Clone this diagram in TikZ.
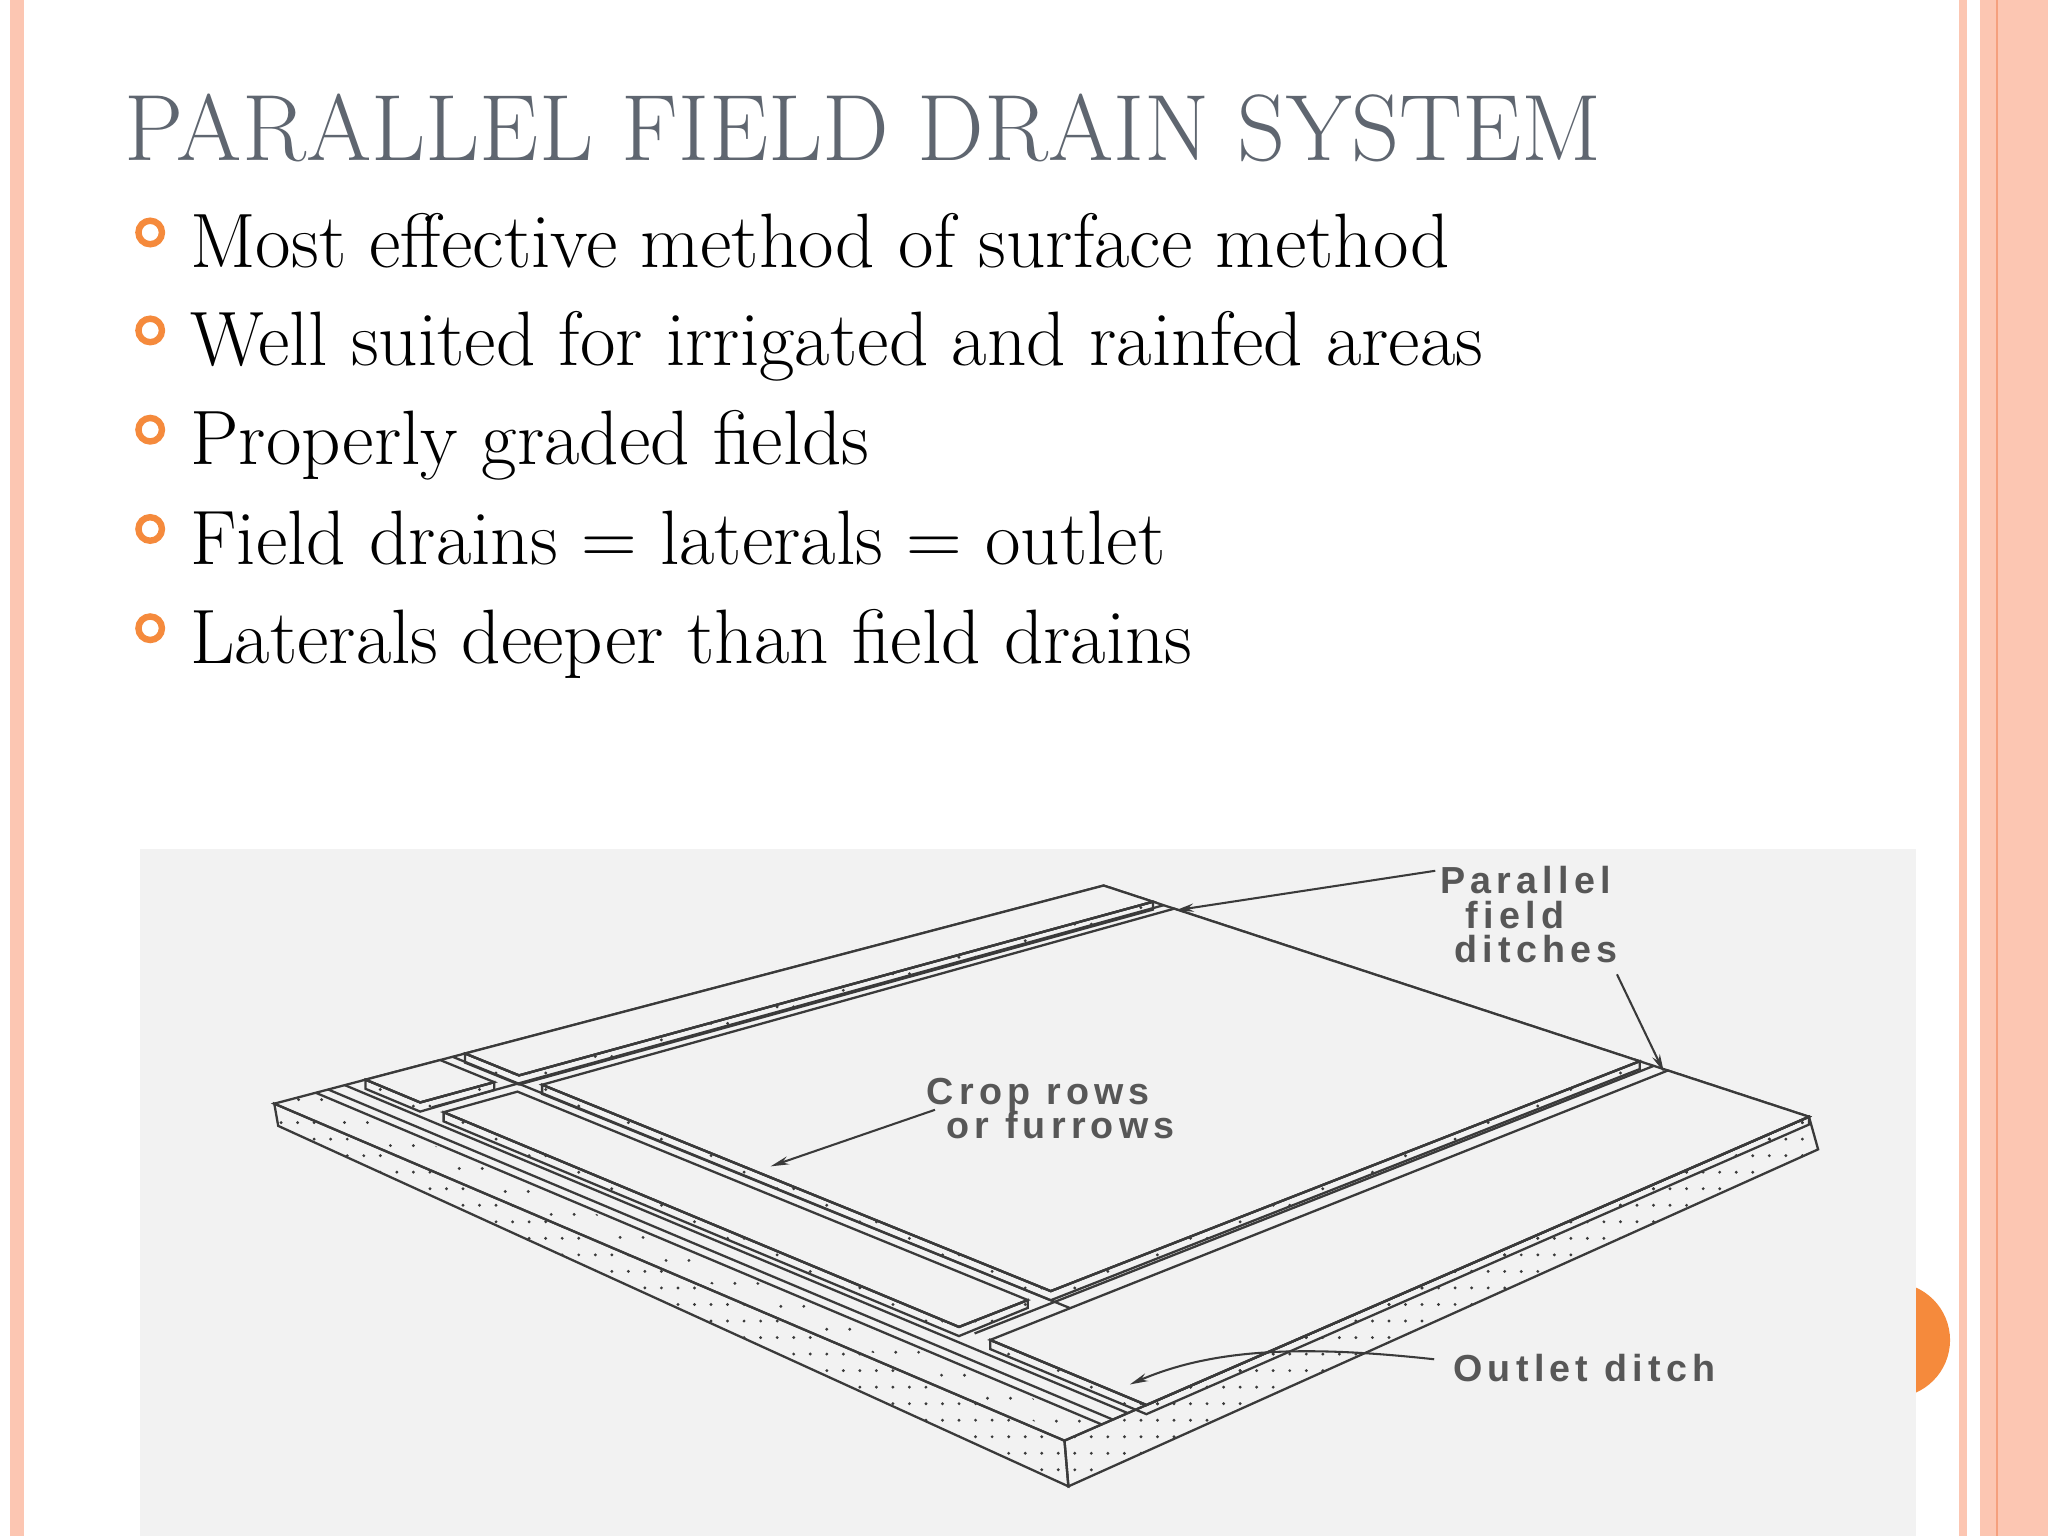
\documentclass[tikz,border=0pt]{standalone}
\usepackage{fontspec}
\usetikzlibrary{calc,patterns.meta,arrows.meta}
\newfontfamily\labfont[LetterSpace=14]{Liberation Sans Bold}
\definecolor{peach}{HTML}{FCC6B2}
\definecolor{peachline}{HTML}{F5A07E}
\definecolor{bulorange}{HTML}{F58A3C}
\definecolor{titlegray}{HTML}{5F6670}
\definecolor{photo}{HTML}{F2F2F2}
\definecolor{ink}{HTML}{3A3A3A}
\newcommand\gp[2]{($($(L)!#1!(F)$)!#2!($(Bk)!#1!(R)$)$)}
\newcommand\plate[4]{%
  \path \gp{#1}{#3} coordinate (pa) \gp{#2}{#3} coordinate (pb) \gp{#2}{#4} coordinate (pc) \gp{#1}{#4} coordinate (pd);
  \filldraw[platetop] (pa) -- (pb) -- (pc) -- (pd) -- cycle;
  \filldraw[sandface] (pa) -- (pb) -- (pc) -- ($(pc)+(0,6)$) -- ($(pb)+(0,7)$) -- ($(pa)+(0,7)$) -- cycle;
  \draw[dline] (pa) -- (pb) -- (pc);}
\newcommand\sline[3]{\draw[dline] \gp{#1}{#3} -- \gp{#2}{#3};}
\newcommand\tline[3]{\draw[dline] \gp{#3}{#1} -- \gp{#3}{#2};}
\tikzset{
  dline/.style={draw=ink,line width=0.5pt},
  platetop/.style={fill=photo,draw=ink,line width=0.5pt},
  sandface/.style={pattern={Dots[distance=3.6pt,radius=0.35pt]},pattern color=ink,draw=ink,line width=0.5pt},
  bullettext/.style={anchor=base west,inner sep=0,font=\fontsize{16.8}{20}\selectfont},
  bulletring/.style={draw=bulorange,line width=1.4pt},
  lab/.style={inner sep=0,anchor=base,text=ink!85,font=\labfont\fontsize{8.2}{9}\selectfont},
  lead/.style={draw=ink,line width=0.45pt,-{Stealth[length=4pt,width=1.8pt]}},
}
\begin{document}
\begin{tikzpicture}[x=0.01cm,y=-0.01cm]
\useasboundingbox (0,0) rectangle (1568,1176);
\fill[white] (0,0) rectangle (1568,1176);
% page decoration
\fill[peach] (8,0) rectangle (18,1176);
\fill[peach] (1500,0) rectangle (1506,1176);
\fill[peach] (1516,0) rectangle (1568,1176);
\fill[peachline] (1528,0) rectangle (1529.5,1176);
\fill[bulorange] (1449,1026) circle (44);
% title and bullets
\node[anchor=base west,inner sep=0,text=titlegray,font=\fontsize{20.5}{24}\selectfont] (title) at (95,123) {PARALLEL FIELD DRAIN SYSTEM};
\foreach \y/\t [count=\i] in {205/Most effective method of surface method,
  280/Well suited for irrigated and rainfed areas,
  356/Properly graded fields,
  432/Field drains = laterals = outlet,
  508/Laterals deeper than field drains}{
  \draw[bulletring] (115,\y-27) circle (9);
  \node[bullettext] (b\i) at (145,\y) {\t};
}
% photo area
\fill[photo] (107,650) rectangle (1467,1176);
% slab
\coordinate (L) at (210,845);
\coordinate (Bk) at (845,678);
\coordinate (R) at (1385,855);
\coordinate (F) at (815,1103);
\coordinate (Lb) at (213,862);
\coordinate (Fb) at (818,1138);
\coordinate (Rb) at (1392,880);
\filldraw[platetop] (L) -- (Bk) -- (R) -- (F) -- cycle;
\filldraw[sandface] (L) -- (F) -- (Fb) -- (Lb) -- cycle;
\filldraw[sandface] (F) -- (R) -- (Rb) -- (Fb) -- cycle;
% outlet ditch lines
\sline{0}{1}{0.05}
\sline{0}{1}{0.065}
\sline{0}{1}{0.085}
\fill[pattern={Dots[distance=5pt,radius=0.35pt]},pattern color=ink] \gp{0}{0.01} -- \gp{1}{0.01} -- \gp{1}{0.045} -- \gp{0}{0.045} -- cycle;
% lateral ditch and field ditches (bottom lines)
\sline{0}{0.8}{0.215}
\tline{0.11}{1}{0.085}
\tline{0.11}{1}{0.78}
% plates
\plate{0}{0.07}{0.23}{1}
\plate{0}{0.07}{0.11}{0.20}
\plate{0.10}{0.76}{0.11}{0.20}
\plate{0.10}{0.76}{0.23}{1}
\plate{0.80}{1}{0.11}{1}
% labels
\node[lab] (par) at (1168,684) {Parallel};
\node[lab] (fld) at (1160,711) {field};
\node[lab] (dit) at (1176,737) {ditches};
\node[lab] (crop) at (795,846) {Crop rows};
\node[lab] (furr) at (812,872) {or furrows};
\node[lab] (outl) at (1213,1058) {Outlet ditch};
\coordinate (tipA) at (900,697);
\coordinate (tipB) at (1274,821);
\coordinate (tipC) at (590,893);
\coordinate (tipD) at (865,1060);
\draw[lead] (par.west) ++(-3,-7) -- (tipA);
\draw[lead] (dit.south) ++(62,8) -- (tipB);
\draw[lead] (furr.west) ++(-8,-12) -- (tipC);
\draw[lead] (outl.west) ++(-14,-7) .. controls (1000,1030) and (930,1032) .. (tipD);
\end{tikzpicture}
\end{document}
